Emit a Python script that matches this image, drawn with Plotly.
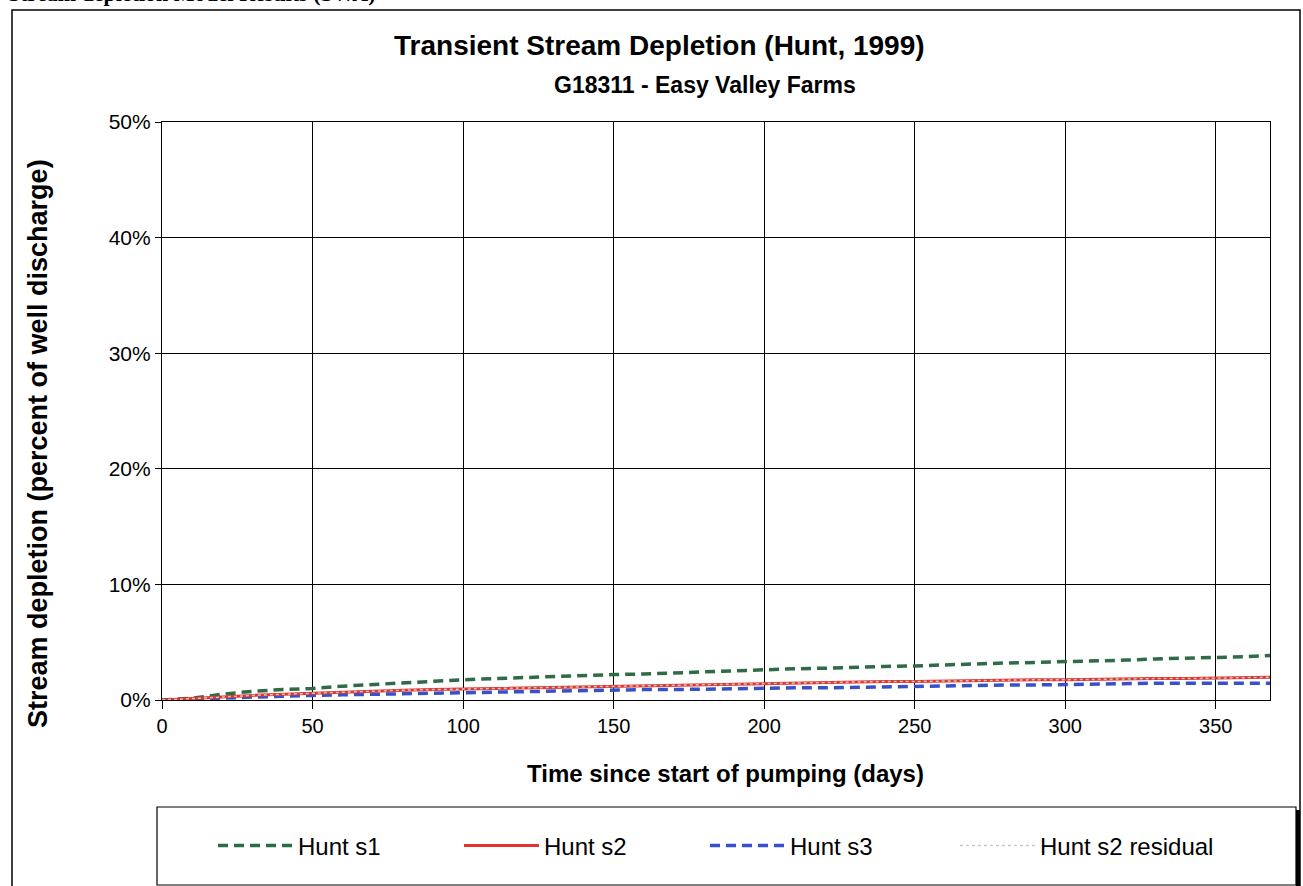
import plotly.graph_objects as go

days = [0, 10, 20, 30, 40, 50, 60, 70, 80, 90, 100, 110, 120, 130, 140, 150, 160, 170, 180,
        190, 200, 210, 220, 230, 240, 250, 260, 270, 280, 290, 300, 310, 320, 330, 340, 350, 360, 368]
hunt_s1 = [0, 0.15, 0.5, 0.75, 0.9, 1.0, 1.2, 1.35, 1.45, 1.6, 1.75, 1.85, 1.95, 2.05, 2.1, 2.2, 2.25,
           2.35, 2.4, 2.5, 2.6, 2.7, 2.75, 2.85, 2.9, 2.95, 3.05, 3.1, 3.2, 3.25, 3.3, 3.4, 3.45, 3.55,
           3.6, 3.65, 3.75, 3.85]
hunt_s2 = [0, 0.1, 0.25, 0.4, 0.5, 0.6, 0.7, 0.75, 0.85, 0.9, 0.95, 1.0, 1.05, 1.1, 1.15, 1.2, 1.25,
           1.3, 1.35, 1.4, 1.45, 1.5, 1.5, 1.55, 1.6, 1.6, 1.65, 1.7, 1.7, 1.75, 1.75, 1.8, 1.8, 1.85,
           1.85, 1.9, 1.95, 1.97]
hunt_s3 = [0, 0.05, 0.15, 0.25, 0.35, 0.4, 0.45, 0.5, 0.55, 0.6, 0.65, 0.7, 0.75, 0.8, 0.85, 0.85, 0.9,
           0.9, 0.95, 1.0, 1.0, 1.05, 1.05, 1.1, 1.1, 1.15, 1.2, 1.25, 1.3, 1.3, 1.35, 1.35, 1.4, 1.45,
           1.45, 1.45, 1.45, 1.45]
hunt_s2_residual = hunt_s2

y_ticks = [0, 10, 20, 30, 40, 50]
x_ticks = [0, 50, 100, 150, 200, 250, 300, 350]

FONT = "Arial, Liberation Sans, sans-serif"
W, H = 1303, 886
L, R, T, B = 162, 1270, 122, 700


def px(x):
    return (x - L) / (R - L)


def py(y):
    return (B - y) / (B - T)


fig = go.Figure()
fig.add_trace(go.Scatter(x=days, y=hunt_s1, mode="lines", name="Hunt s1", legendrank=1,
                         line=dict(color="#2F6B45", width=3.5, dash="10px,6px")))
fig.add_trace(go.Scatter(x=days, y=hunt_s3, mode="lines", name="Hunt s3", legendrank=3,
                         line=dict(color="#3552C8", width=3.5, dash="10px,6px")))
fig.add_trace(go.Scatter(x=days, y=hunt_s2, mode="lines", name="Hunt s2", legendrank=2,
                         line=dict(color="#E3342C", width=3)))
fig.add_trace(go.Scatter(x=days, y=hunt_s2_residual, mode="lines", name="Hunt s2 residual",
                         legend="legend2",
                         line=dict(color="#C8C8C8", width=1.5, dash="dot")))

shapes = [
    # outer frame
    dict(type="rect", xref="paper", yref="paper", x0=px(12), x1=px(1300), y0=py(900), y1=py(10),
         line=dict(color="black", width=1.5), layer="below"),
    # legend box
    dict(type="rect", xref="paper", yref="paper", x0=px(157), x1=px(1296), y0=py(885), y1=py(807),
         line=dict(color="black", width=1.2)),
    dict(type="line", xref="paper", yref="paper", x0=px(1298), x1=px(1298), y0=py(886), y1=py(810),
         line=dict(color="black", width=4)),
]

annotations = [
    dict(text="<b>Stream depletion Model Results (SWA)</b>", xref="paper", yref="paper",
         x=px(6), y=py(8), xanchor="left", yanchor="bottom", showarrow=False,
         font=dict(family="Liberation Serif, Times New Roman, serif", size=22, color="black")),
    dict(text="<b>Transient Stream Depletion (Hunt, 1999)</b>", xref="paper", yref="paper",
         x=px(659), y=py(45), xanchor="center", yanchor="middle", showarrow=False,
         font=dict(family=FONT, size=28, color="black")),
    dict(text="<b>G18311 - Easy Valley Farms</b>", xref="paper", yref="paper",
         x=px(705), y=py(85), xanchor="center", yanchor="middle", showarrow=False,
         font=dict(family=FONT, size=23, color="black")),
    dict(text="<b>Time since start of pumping (days)</b>", xref="paper", yref="paper",
         x=px(725), y=py(773), xanchor="center", yanchor="middle", showarrow=False,
         font=dict(family=FONT, size=24, color="black")),
    dict(text="<b>Stream depletion (percent of well discharge)</b>", xref="paper", yref="paper",
         x=px(38), y=py(444), xanchor="center", yanchor="middle", showarrow=False, textangle=-90,
         font=dict(family=FONT, size=27, color="black")),
]

fig.update_layout(
    width=W, height=H,
    margin=dict(l=L, r=W - R, t=T, b=H - B, pad=0),
    paper_bgcolor="white", plot_bgcolor="white",
    font=dict(family=FONT, size=19, color="black"),
    showlegend=True,
    legend=dict(orientation="h", x=px(213), y=py(846), xanchor="left", yanchor="middle",
                entrywidth=156, entrywidthmode="pixels", font=dict(size=24, color="black"),
                bgcolor="rgba(0,0,0,0)", borderwidth=0, itemwidth=75),
    legend2=dict(orientation="h", x=px(955), y=py(846), xanchor="left", yanchor="middle",
                 font=dict(size=24, color="black"),
                 bgcolor="rgba(0,0,0,0)", borderwidth=0, itemwidth=75),
    shapes=shapes,
    annotations=annotations,
    xaxis=dict(range=[0, 368], tickvals=x_ticks, ticktext=[str(v) for v in x_ticks],
               showgrid=True, gridcolor="black", gridwidth=1.2,
               showline=True, linecolor="black", linewidth=1.2, mirror=True,
               ticks="outside", ticklen=8, tickcolor="black", tickfont=dict(size=20),
               zeroline=False),
    yaxis=dict(range=[0, 50], tickvals=y_ticks, ticktext=[f"{v}%" for v in y_ticks],
               showgrid=True, gridcolor="black", gridwidth=1.2,
               showline=True, linecolor="black", linewidth=1.2, mirror=True,
               ticks="outside", ticklen=6, tickcolor="black", tickfont=dict(size=21),
               zeroline=False),
)

fig.write_html("out.html", config={"displayModeBar": False},
               post_script="document.body.style.margin='0';document.body.style.overflow='hidden';")
